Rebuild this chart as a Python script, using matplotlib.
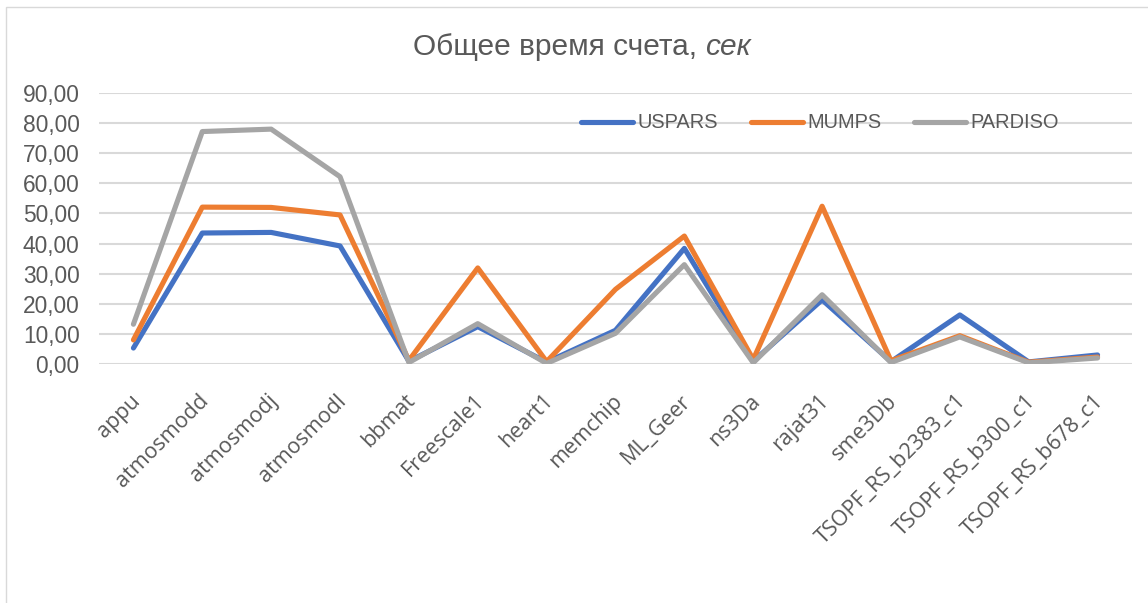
import matplotlib
matplotlib.use('Agg')
import matplotlib.pyplot as plt
import matplotlib.transforms as mtransforms
from matplotlib.patches import Rectangle

categories = ['appu', 'atmosmodd', 'atmosmodj', 'atmosmodl', 'bbmat',
              'Freescale1', 'heart1', 'memchip', 'ML_Geer', 'ns3Da',
              'rajat31', 'sme3Db', 'TSOPF_RS_b2383_c1', 'TSOPF_RS_b300_c1',
              'TSOPF_RS_b678_c1']
uspars = [5.3, 43.5, 43.7, 39.2, 0.9, 12.4, 0.6, 11.2, 38.4, 0.9,
          21.3, 0.8, 16.3, 0.7, 3.0]
mumps = [8.0, 52.1, 52.0, 49.5, 1.2, 31.9, 0.8, 24.8, 42.5, 1.5,
         52.4, 1.1, 9.4, 0.6, 2.3]
pardiso = [13.2, 77.2, 78.0, 62.2, 0.5, 13.4, 0.2, 10.2, 33.0, 0.4,
           23.0, 0.5, 9.0, 0.4, 2.0]
series_names = ['USPARS', 'MUMPS', 'PARDISO']
y_ticks = [0, 10, 20, 30, 40, 50, 60, 70, 80, 90]
title_main = 'Общее время счета, '
title_unit = 'сек'

colors = ['#4472C4', '#ED7D31', '#A5A5A5']
text_color = '#595959'
grid_color = '#D9D9D9'

plt.rcParams['font.family'] = ['Liberation Sans', 'DejaVu Sans']

W, H = 1148, 603
fig = plt.figure(figsize=(W / 100, H / 100), dpi=100)
ax = fig.add_axes([99 / W, 1 - 364 / H, (1132 - 99) / W, (364 - 93) / H])

x = list(range(len(categories)))
for vals, name, c in zip([uspars, mumps, pardiso], series_names, colors):
    ax.plot(x, vals, color=c, lw=3.7, label=name,
            solid_capstyle='round', solid_joinstyle='round')

ax.set_xlim(-0.5, len(categories) - 0.5)
ax.set_ylim(0, 90)
ax.set_yticks(y_ticks)
ax.set_yticklabels(['{:.2f}'.format(v).replace('.', ',') for v in y_ticks])
ax.grid(True, axis='y', color=grid_color, lw=1.5)
ax.set_axisbelow(True)
for s in ax.spines.values():
    s.set_visible(False)
ax.tick_params(axis='y', length=0, pad=14, labelsize=16.4, labelcolor=text_color)
ax.tick_params(axis='x', length=0, pad=19, labelcolor=text_color)

ax.set_xticks(x)
ax.set_xticklabels(categories, rotation=45, ha='right', va='top',
                   rotation_mode='anchor', fontsize=15.5, family='Open Sans')
shift = mtransforms.ScaledTranslation(-4 / 100, 0, fig.dpi_scale_trans)
for lab in ax.get_xticklabels():
    lab.set_transform(lab.get_transform() + shift)

leg = fig.legend(loc='center', bbox_to_anchor=(820 / W, 1 - 123 / H), ncol=3,
                 frameon=False, fontsize=14.4, handlelength=2.6,
                 handletextpad=0.2, columnspacing=1.65)
for t in leg.get_texts():
    t.set_color(text_color)

# title with italic unit
fig.canvas.draw()
renderer = fig.canvas.get_renderer()
t1 = fig.text(0, 1 - 55 / H, title_main, fontsize=21.5, color=text_color,
              va='baseline', ha='left')
t2 = fig.text(0, 1 - 55 / H, title_unit, fontsize=21.5, color=text_color,
              va='baseline', ha='left', style='italic')
w1 = t1.get_window_extent(renderer).width
w2 = t2.get_window_extent(renderer).width
left = 582 - (w1 + w2) / 2
t1.set_x(left / W)
t2.set_x((left + w1) / W)

fig.add_artist(Rectangle((5.5 / W, -0.1), 2, 1 + 0.1 - 7.5 / H,
                         transform=fig.transFigure, fill=False,
                         ec=grid_color, lw=1))

fig.savefig('out.png', dpi=100, facecolor='white')
